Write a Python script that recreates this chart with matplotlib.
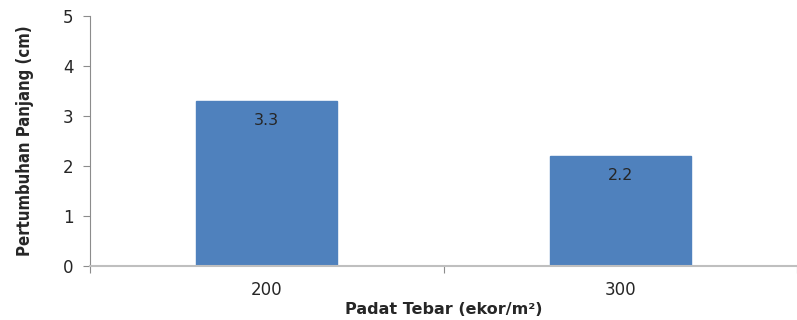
import matplotlib
matplotlib.use("Agg")
import matplotlib.pyplot as plt

# data
categories = ["200", "300"]
values = [3.3, 2.2]
value_labels = ["3.3", "2.2"]
yticks = [0, 1, 2, 3, 4, 5]

fig = plt.figure(figsize=(7.97, 3.2), dpi=100)
ax = fig.add_axes([90/797, 1-266/320, 1-90/797, 250/320])

x = list(range(len(categories)))
ax.bar(x, values, width=0.398, color="#4F81BD", edgecolor="#4F81BD", zorder=2)
for xi, v, lab in zip(x, values, value_labels):
    ax.text(xi, v - 0.24, lab, ha="center", va="top", fontsize=11.5, color="#262626")

ax.set_xlim(-0.5, 1.47)
ax.set_ylim(0, 5)
ax.set_yticks(yticks)
ax.set_yticklabels([str(t) for t in yticks], fontsize=12, color="#262626")
# category boundary ticks, labels at category centres
ax.set_xticks([-0.5, 0.5, 1.5])
ax.set_xticklabels([])
ax.set_xticks(x, minor=True)
ax.set_xticklabels(categories, minor=True, fontsize=12, color="#262626")
ax.tick_params(axis="x", which="minor", length=0, pad=11)
ax.tick_params(axis="x", which="major", length=5, color="#8C8C8C")
ax.tick_params(axis="y", length=5, color="#8C8C8C", pad=7)

for s in ["top", "right"]:
    ax.spines[s].set_visible(False)
ax.spines["left"].set_color("#8C8C8C")
ax.spines["bottom"].set_color("#BFBFBF")
ax.spines["bottom"].set_linewidth(1.5)

ax.set_xlabel("Padat Tebar (ekor/m²)", fontsize=11.5, fontweight="bold", color="#262626", labelpad=2)
ax.set_ylabel("Pertumbuhan Panjang (cm)", fontsize=12, fontweight="bold", fontstretch="condensed",
              color="#262626", labelpad=21)

fig.savefig("out.png", dpi=100)
